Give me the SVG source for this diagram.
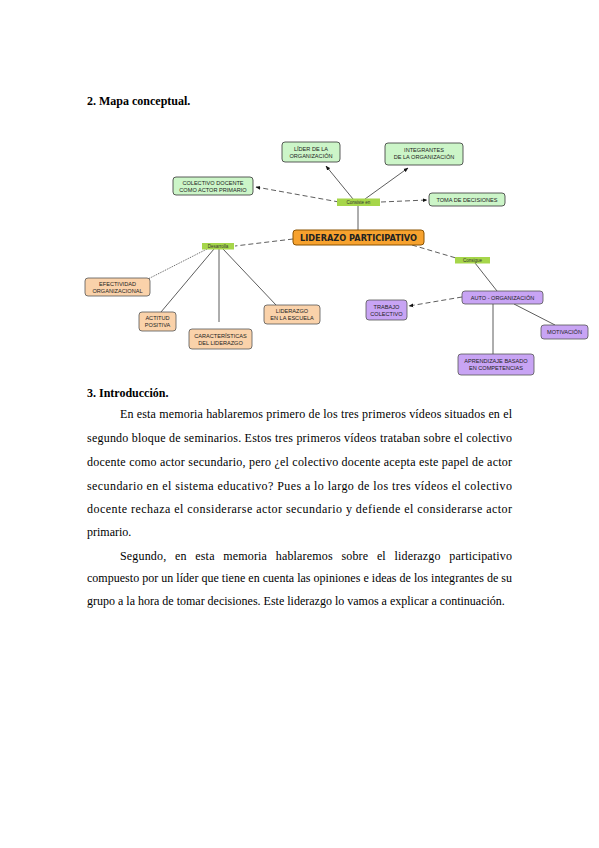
<svg xmlns="http://www.w3.org/2000/svg" width="599" height="848" viewBox="0 0 599 848">
<style>
.h{font-family:"Liberation Serif",serif;font-weight:bold;font-size:12px;fill:#000}
.p{font-family:"Liberation Serif",serif;font-size:12px;fill:#000}
.n{font-family:"Liberation Sans",sans-serif;font-size:5.6px;fill:#222;text-anchor:middle}
.g rect{fill:#ccf5c8;stroke:#333;stroke-width:0.8}
.o rect{fill:#fad2aa;stroke:#555;stroke-width:0.8}
.u rect{fill:#c8a4f4;stroke:#555;stroke-width:0.8}
.m rect{fill:#f7a22e;stroke:#8a5200;stroke-width:1}
.l rect{fill:#a6d64a;stroke:none}
.l text{font-family:"Liberation Sans",sans-serif;font-size:4.5px;fill:#333;text-anchor:middle}
.c{fill:none;stroke:#333;stroke-width:0.8}
.d{stroke-dasharray:5 3}
.t{stroke-dasharray:1 1}
</style>
<defs>
<marker id="a" viewBox="0 0 10 10" refX="9" refY="5" markerWidth="6" markerHeight="6" orient="auto"><path d="M0,1 L10,5 L0,9 z" fill="#111"/></marker>
</defs>
<rect width="599" height="848" fill="#fff"/>
<text class="h" x="87" y="105">2. Mapa conceptual.</text>
<g id="connectors">
<line class="c" x1="353" y1="199" x2="326" y2="166" marker-end="url(#a)"/>
<line class="c" x1="365" y1="199" x2="408" y2="168" marker-end="url(#a)"/>
<line class="c d" x1="339" y1="202" x2="256" y2="187" marker-end="url(#a)" stroke-width="1.1"/>
<line class="c d" x1="381" y1="202" x2="427" y2="200" marker-end="url(#a)" stroke-dasharray="12 3" stroke-width="1.1"/>
<line class="c" x1="358" y1="206" x2="358" y2="230" stroke-width="1.1"/>
<line class="c d" x1="293" y1="239" x2="235" y2="246" stroke-width="1.1"/>
<line class="c d" x1="412" y1="245" x2="456" y2="258" stroke-dasharray="3 1.5" stroke-width="1"/>
<line class="c t" x1="207" y1="249" x2="148" y2="279"/>
<line class="c" x1="214" y1="249" x2="161" y2="312" stroke-width="0.6"/>
<line class="c" x1="219" y1="249" x2="219" y2="322" stroke-width="1"/>
<line class="c" x1="223" y1="249" x2="276" y2="305" stroke-width="0.6"/>
<line class="c" x1="475" y1="263" x2="497" y2="291" stroke-width="0.6"/>
<line class="c d" x1="462" y1="297" x2="409" y2="306" marker-end="url(#a)" stroke-width="1"/>
<line class="c" x1="514" y1="304" x2="555" y2="325" stroke-width="0.6"/>
<line class="c" x1="493" y1="304" x2="493" y2="354" stroke-width="1"/>
</g>
<g id="lider" class="g"><rect x="282" y="142" width="58" height="20" rx="3"/><text class="n" x="311" y="151">LÍDER DE LA</text><text class="n" x="311" y="158">ORGANIZACIÓN</text></g>
<g id="integrantes" class="g"><rect x="385" y="143" width="78" height="22" rx="3"/><text class="n" x="424" y="152">INTEGRANTES</text><text class="n" x="424" y="159">DE LA ORGANIZACIÓN</text></g>
<g id="colectivo" class="g"><rect x="173" y="177" width="80" height="18" rx="3"/><text class="n" x="213" y="185">COLECTIVO DOCENTE</text><text class="n" x="213" y="192">COMO ACTOR PRIMARIO</text></g>
<g id="toma" class="g"><rect x="429" y="193" width="76" height="13" rx="3"/><text class="n" x="467" y="201.5">TOMA DE DECISIONES</text></g>
<g id="consiste" class="l"><rect x="337" y="198.5" width="43" height="7.5"/><text x="358.5" y="204">Consiste en</text></g>
<g id="liderazo" class="m"><rect x="293" y="230" width="131" height="15" rx="3"/><text x="358.5" y="241" font-family="DejaVu Sans,sans-serif" font-weight="bold" font-size="8.2" text-anchor="middle" fill="#222">LIDERAZO PARTICIPATIVO</text></g>
<g id="desarrolla" class="l"><rect x="202" y="243" width="32" height="6.5"/><text x="218" y="248">Desarrolla</text></g>
<g id="consigue" class="l"><rect x="455" y="257" width="35" height="6.5"/><text x="472.5" y="262">Consigue</text></g>
<g id="efectividad" class="o"><rect x="85" y="278" width="65" height="18" rx="3"/><text class="n" x="117.5" y="286">EFECTIVIDAD</text><text class="n" x="117.5" y="293">ORGANIZACIONAL</text></g>
<g id="actitud" class="o"><rect x="139" y="312" width="37" height="19" rx="3"/><text class="n" x="157.5" y="320">ACTITUD</text><text class="n" x="157.5" y="327">POSITIVA</text></g>
<g id="caracteristicas" class="o"><rect x="189" y="329" width="63" height="20" rx="3"/><text class="n" x="220.5" y="338">CARACTERÍSTICAS</text><text class="n" x="220.5" y="345">DEL LIDERAZGO</text></g>
<g id="escuela" class="o"><rect x="264" y="305" width="56" height="19" rx="3"/><text class="n" x="292" y="313">LIDERAZGO</text><text class="n" x="292" y="320">EN LA ESCUELA</text></g>
<g id="auto" class="u"><rect x="462" y="291" width="81" height="13" rx="3"/><text class="n" x="502.5" y="299.5">AUTO - ORGANIZACIÓN</text></g>
<g id="trabajo" class="u"><rect x="366" y="300" width="41" height="20" rx="3"/><text class="n" x="386.5" y="308.5">TRABAJO</text><text class="n" x="386.5" y="315.5">COLECTIVO</text></g>
<g id="motivacion" class="u"><rect x="541" y="325" width="47" height="14" rx="3"/><text class="n" x="564.5" y="334">MOTIVACIÓN</text></g>
<g id="aprendizaje" class="u"><rect x="458" y="354" width="76" height="21" rx="3"/><text class="n" x="496" y="362.5">APRENDIZAJE BASADO</text><text class="n" x="496" y="369.5">EN COMPETENCIAS</text></g>
<text class="h" x="87" y="397">3. Introducción.</text>
<text class="p" x="120" y="418" textLength="392" lengthAdjust="spacing">En esta memoria hablaremos primero de los tres primeros vídeos situados en el</text>
<text class="p" x="87" y="442" textLength="425" lengthAdjust="spacing">segundo bloque de seminarios. Estos tres primeros vídeos trataban sobre el colectivo</text>
<text class="p" x="87" y="466" textLength="425" lengthAdjust="spacing">docente como actor secundario, pero ¿el colectivo docente acepta este papel de actor</text>
<text class="p" x="87" y="490" textLength="425" lengthAdjust="spacing">secundario en el sistema educativo? Pues a lo largo de los tres vídeos el colectivo</text>
<text class="p" x="87" y="513" textLength="425" lengthAdjust="spacing">docente rechaza el considerarse actor secundario y defiende el considerarse actor</text>
<text class="p" x="87" y="536">primario.</text>
<text class="p" x="120" y="560" word-spacing="5.5" textLength="392" lengthAdjust="spacing">Segundo, en esta memoria hablaremos sobre el liderazgo participativo</text>
<text class="p" x="87" y="582" textLength="425" lengthAdjust="spacing">compuesto por un líder que tiene en cuenta las opiniones e ideas de los integrantes de su</text>
<text class="p" x="87" y="605">grupo a la hora de tomar decisiones. Este liderazgo lo vamos a explicar a continuación.</text>
</svg>
